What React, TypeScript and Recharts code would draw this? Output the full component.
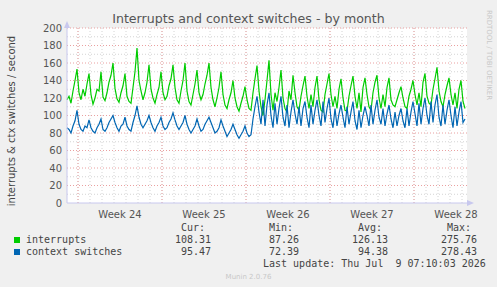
import React from 'react'
import { LineChart, Line, XAxis, YAxis, ReferenceLine } from 'recharts'

// 4-hour samples, six per day
const interrupts = [
  118, 122, 114, 128, 140, 153, 126, 118, 130, 122, 136, 148,
  124, 113, 120, 130, 128, 150, 121, 117, 126, 138, 146, 160,
  131, 119, 115, 126, 134, 148, 122, 116, 114, 132, 150, 177,
  140, 128, 118, 126, 138, 158, 130, 120, 114, 124, 132, 150,
  126, 118, 122, 134, 142, 158, 132, 118, 114, 128, 140, 160,
  128, 116, 112, 124, 136, 152, 126, 118, 124, 136, 146, 160,
  132, 118, 110, 120, 132, 150, 124, 112, 108, 118, 126, 140,
  120, 110, 105, 114, 122, 133, 118, 108, 106, 126, 142, 157,
  128, 110, 100, 118, 140, 163, 124, 106, 126, 116, 132, 152,
  120, 108, 104, 128, 118, 146, 126, 110, 106, 122, 134, 145,
  122, 108, 124, 110, 132, 145, 118, 106, 104, 124, 136, 148,
  124, 110, 122, 108, 130, 142, 120, 106, 105, 122, 134, 145,
  122, 108, 126, 104, 132, 143, 124, 110, 106, 126, 138, 146,
  120, 108, 124, 110, 132, 143, 118, 112, 110, 118, 126, 133,
  120, 110, 108, 122, 130, 140, 124, 112, 126, 110, 138, 148,
  122, 114, 112, 130, 142, 155, 128, 116, 110, 124, 134, 143,
  124, 112, 126, 108, 130, 140, 116, 108,
]
const ctxSwitches = [
  86, 84, 80, 88, 94, 106, 90, 84, 82, 88, 86, 95,
  86, 82, 80, 86, 90, 96, 84, 82, 86, 92, 96, 100,
  92, 86, 82, 88, 90, 98, 88, 84, 82, 92, 100, 111,
  98, 90, 86, 90, 94, 100, 92, 86, 82, 88, 92, 98,
  88, 84, 86, 92, 96, 103, 95, 88, 84, 88, 92, 100,
  90, 84, 80, 84, 88, 96, 88, 82, 84, 90, 94, 98,
  92, 86, 80, 82, 86, 95, 88, 82, 76, 80, 84, 90,
  84, 78, 74, 78, 82, 88, 80, 76, 78, 96, 110, 122,
  104, 90, 118, 88, 112, 126, 100, 86, 114, 90, 108, 122,
  98, 88, 112, 86, 104, 118, 102, 90, 110, 88, 108, 116,
  98, 86, 112, 90, 106, 118, 100, 88, 116, 92, 108, 120,
  96, 86, 108, 88, 102, 112, 98, 86, 110, 90, 104, 116,
  94, 84, 106, 86, 100, 110, 100, 88, 112, 90, 106, 118,
  98, 90, 108, 88, 102, 112, 96, 86, 104, 88, 100, 108,
  94, 86, 108, 88, 104, 116, 102, 88, 114, 90, 108, 120,
  100, 90, 116, 92, 112, 124, 98, 88, 112, 90, 106, 118,
  100, 86, 110, 88, 104, 116, 92, 96,
]
const weekNames = ['Week 24', 'Week 25', 'Week 26', 'Week 27', 'Week 28']
const weekStarts = [22, 190, 358, 526, 694] // hours from left edge
const yTicks = [0, 20, 40, 60, 80, 100, 120, 140, 160, 180, 200]
const minorY = [10, 30, 50, 70, 90, 110, 130, 150, 170, 190]

const legendRows = [
  { name: 'interrupts', color: '#00cc00', cur: '108.31', min: '87.26', avg: '126.13', max: '275.76' },
  { name: 'context switches', color: '#0066b3', cur: '95.47', min: '72.39', avg: '94.38', max: '278.43' },
]

const data = interrupts.map((v, i) => ({ t: i * 4, irq: v, ctx: ctxSwitches[i] }))
const dayLines: number[] = []
for (let h = 22; h < 800; h += 24) dayLines.push(h)
const weekLabelAt = weekStarts.map((h) => h + 84)

const mono = '"DejaVu Sans Mono", monospace'
const sans = '"DejaVu Sans", sans-serif'
const gridGrey = '#d4d4d4'
const gridRed = '#eaa0a0'
const axisCol = '#c8c8ee'

const txt = (left: number, top: number, s: string, extra: React.CSSProperties = {}) => (
  <div style={{ position: 'absolute', left, top, fontFamily: mono, fontSize: 10, lineHeight: '10px', color: '#444', whiteSpace: 'pre', ...extra }}>{s}</div>
)
const num = (right: number, top: number, s: string) =>
  txt(right - 60, top, s, { width: 60, textAlign: 'right' })

export default function App() {
  return (
    <div style={{ position: 'absolute', left: 0, top: 0, width: 497, height: 287, background: '#f0f0f0', overflow: 'hidden' }}>
      <div style={{ position: 'absolute', left: 67, top: 28, width: 400, height: 175, background: '#fff' }} />
      <div style={{ position: 'absolute', left: 0, top: 12, width: '100%', textAlign: 'center', fontFamily: sans, fontSize: 12.6, lineHeight: '14px', color: '#555' }}>
        Interrupts and context switches - by month
      </div>
      <div style={{ position: 'absolute', left: 12, top: 121, transform: 'translate(-50%, -50%) rotate(-90deg)', fontFamily: sans, fontSize: 10, lineHeight: '12px', color: '#444', whiteSpace: 'nowrap' }}>
        interrupts &amp; ctx switches / second
      </div>
      <div style={{ position: 'absolute', left: 489, top: 55, transform: 'translate(-50%, -50%) rotate(90deg)', fontFamily: sans, fontSize: 7, lineHeight: '8px', color: '#c8c8c8', whiteSpace: 'nowrap' }}>
        RRDTOOL / TOBI OETIKER
      </div>
      <div style={{ position: 'absolute', left: 0, top: 0 }}>
        <LineChart width={497} height={287} data={data} margin={{ top: 28, right: 30, bottom: 64, left: 27 }}>
          {minorY.map((y) => (
            <ReferenceLine key={'my' + y} y={y} stroke={gridGrey} strokeDasharray="1 2" />
          ))}
          {dayLines.map((h) => (
            <ReferenceLine key={'d' + h} x={h} stroke={gridGrey} strokeDasharray="1 2" />
          ))}
          {yTicks.slice(1).map((y) => (
            <ReferenceLine key={'y' + y} y={y} stroke={gridRed} strokeDasharray="1 2" />
          ))}
          {weekStarts.map((h) => (
            <ReferenceLine key={'w' + h} x={h} stroke={gridRed} strokeDasharray="1 2" />
          ))}
          <XAxis
            dataKey="t"
            type="number"
            domain={[0, 800]}
            ticks={weekLabelAt}
            tickFormatter={(v: number) => weekNames[weekLabelAt.indexOf(v)]}
            tickLine={false}
            tickSize={0}
            tickMargin={8}
            height={20}
            axisLine={{ stroke: axisCol }}
            tick={{ fontSize: 10, fontFamily: sans, fill: '#555' }}
          />
          <YAxis
            type="number"
            domain={[0, 200]}
            ticks={yTicks}
            tickLine={false}
            tickSize={0}
            tickMargin={5}
            width={40}
            axisLine={{ stroke: axisCol }}
            tick={{ fontSize: 10, fontFamily: sans, fill: '#555' }}
          />
          <Line dataKey="irq" stroke="#00cc00" strokeWidth={1.2} dot={false} isAnimationActive={false} />
          <Line dataKey="ctx" stroke="#0066b3" strokeWidth={1.2} dot={false} isAnimationActive={false} />
        </LineChart>
      </div>
      <svg style={{ position: 'absolute', left: 0, top: 0 }} width={497} height={287}>
        <polygon points="64,28 70,28 67,21" fill={axisCol} />
        <polygon points="467,200 467,206 474,203" fill={axisCol} />
      </svg>
      {txt(181, 223, 'Cur:')}
      {txt(269, 223, 'Min:')}
      {txt(358, 223, 'Avg:')}
      {txt(447, 223, 'Max:')}
      {legendRows.map((r, i) => (
        <React.Fragment key={r.name}>
          <div style={{ position: 'absolute', left: 14, top: 237 + i * 12, width: 6, height: 6, background: r.color }} />
          {txt(26, 235 + i * 12, r.name)}
          {num(211, 235 + i * 12, r.cur)}
          {num(299, 235 + i * 12, r.min)}
          {num(388, 235 + i * 12, r.avg)}
          {num(477, 235 + i * 12, r.max)}
        </React.Fragment>
      ))}
      {txt(263, 259, 'Last update: Thu Jul  9 07:10:03 2026')}
      <div style={{ position: 'absolute', left: 0, width: '100%', top: 273, textAlign: 'center', fontFamily: sans, fontSize: 7, lineHeight: '8px', color: '#c8c8c8' }}>
        Munin 2.0.76
      </div>
    </div>
  )
}
